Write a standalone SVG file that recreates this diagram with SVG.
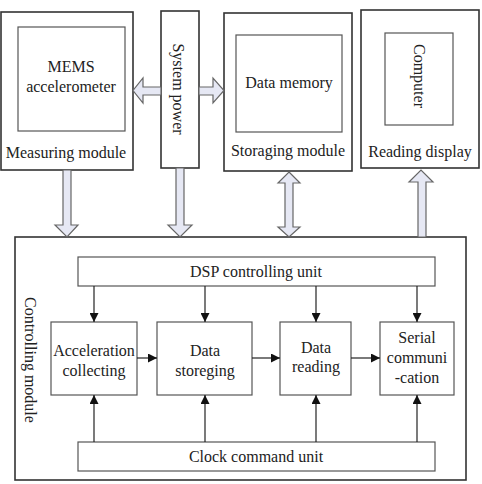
<svg xmlns="http://www.w3.org/2000/svg" width="482" height="484" viewBox="0 0 482 484">
<defs>
<style>
.box{fill:#fff;stroke:#333;stroke-width:1.6}
.ibox{fill:#fff;stroke:#555;stroke-width:1.2}
.t{font-family:"Liberation Serif","Times New Roman",serif;font-size:16px;fill:#222;text-anchor:middle}
.big{fill:#e6e8f4;stroke:#666;stroke-width:1.2}
.ln{stroke:#222;stroke-width:1.2;fill:none}
</style>
<marker id="ah" viewBox="0 0 10 10" refX="10" refY="5" markerWidth="9" markerHeight="9" markerUnits="userSpaceOnUse" orient="auto">
<path d="M0,0 L10,5 L0,10 Z" fill="#111"/>
</marker>
</defs>
<rect width="482" height="484" fill="#fff"/>

<g id="measuring">
<rect class="box" x="1" y="12" width="132" height="158"/>
<rect class="ibox" x="18" y="27" width="107" height="104"/>
<text class="t" x="71" y="72">MEMS</text>
<text class="t" x="71" y="92">accelerometer</text>
<text class="t" x="66" y="158">Measuring module</text>
</g>

<g id="power">
<rect class="box" x="161" y="11" width="38" height="157"/>
<text class="t" transform="translate(173,89) rotate(90)">System power</text>
</g>

<g id="storaging">
<rect class="box" x="224" y="13" width="128" height="158"/>
<rect class="ibox" x="236" y="35" width="106" height="97"/>
<text class="t" x="289" y="88">Data memory</text>
<text class="t" x="288" y="156">Storaging module</text>
</g>

<g id="reading">
<rect class="box" x="361" y="10" width="118" height="158"/>
<rect class="ibox" x="385" y="33" width="68" height="92"/>
<text class="t" transform="translate(414,76) rotate(90)">Computer</text>
<text class="t" x="420" y="157">Reading display</text>
</g>

<g id="controlling">
<rect class="box" x="15" y="237" width="451" height="243"/>
<text class="t" transform="translate(25,360) rotate(90)">Controlling module</text>
</g>

<g id="dsp">
<rect class="ibox" x="78" y="257" width="357" height="29"/>
<text class="t" x="256" y="277">DSP controlling unit</text>
</g>

<g id="clock">
<rect class="ibox" x="78" y="442" width="357" height="29"/>
<text class="t" x="256" y="462">Clock command unit</text>
</g>

<g id="accel">
<rect class="ibox" x="51" y="322" width="86" height="73"/>
<text class="t" x="94" y="356">Acceleration</text>
<text class="t" x="94" y="376">collecting</text>
</g>

<g id="storeging">
<rect class="ibox" x="157" y="322" width="95" height="73"/>
<text class="t" x="205" y="356">Data</text>
<text class="t" x="205" y="376">storeging</text>
</g>

<g id="datareading">
<rect class="ibox" x="280" y="322" width="71" height="73"/>
<text class="t" x="316" y="353">Data</text>
<text class="t" x="316" y="372">reading</text>
</g>

<g id="serial">
<rect class="ibox" x="380" y="322" width="74" height="73"/>
<text class="t" x="417" y="343">Serial</text>
<text class="t" x="417" y="363">communi</text>
<text class="t" x="417" y="383">-cation</text>
</g>

<g id="connectors">
<path class="big" d="M161,87 L143,87 L143,78 L133,90.5 L143,103 L143,95 L161,95 Z"/>
<path class="big" d="M199,87 L213,87 L213,78 L224,90.5 L213,103 L213,95 L199,95 Z"/>
<path class="big" d="M63,170 L71,170 L71,225 L78,225 L67,237 L55,225 L63,225 Z"/>
<path class="big" d="M176,168 L184,168 L184,225 L192,225 L180,237 L168,225 L176,225 Z"/>
<path class="big" d="M289,172 L300,183 L293,183 L293,227 L300,227 L289,237 L278,227 L285,227 L285,183 L278,183 Z"/>
<path class="big" d="M418,237 L418,182 L409,182 L421,170 L433,182 L426,182 L426,237 Z"/>

<line class="ln" x1="94" y1="286" x2="94" y2="322" marker-end="url(#ah)"/>
<line class="ln" x1="205" y1="286" x2="205" y2="322" marker-end="url(#ah)"/>
<line class="ln" x1="316" y1="286" x2="316" y2="322" marker-end="url(#ah)"/>
<line class="ln" x1="417" y1="286" x2="417" y2="322" marker-end="url(#ah)"/>
<line class="ln" x1="94" y1="442" x2="94" y2="395" marker-end="url(#ah)"/>
<line class="ln" x1="205" y1="442" x2="205" y2="395" marker-end="url(#ah)"/>
<line class="ln" x1="316" y1="442" x2="316" y2="395" marker-end="url(#ah)"/>
<line class="ln" x1="417" y1="442" x2="417" y2="395" marker-end="url(#ah)"/>
<line class="ln" x1="137" y1="358" x2="157" y2="358" marker-end="url(#ah)"/>
<line class="ln" x1="252" y1="358" x2="280" y2="358" marker-end="url(#ah)"/>
<line class="ln" x1="351" y1="358" x2="380" y2="358" marker-end="url(#ah)"/>
</g>
</svg>
